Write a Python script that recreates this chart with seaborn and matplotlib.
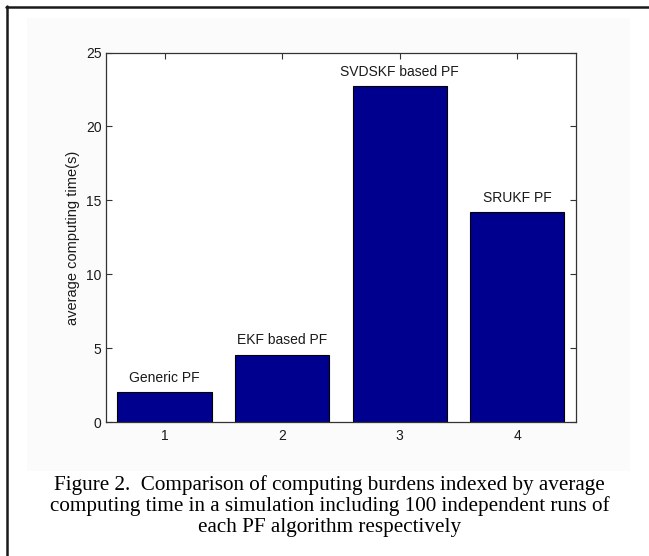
import matplotlib
matplotlib.use("Agg")
import matplotlib.pyplot as plt
import seaborn as sns
import pandas as pd
from matplotlib.lines import Line2D
from matplotlib.patches import Rectangle

# values
runs = ["1", "2", "3", "4"]
avg_time = [2.03, 4.58, 22.72, 14.22]
bar_labels = ["Generic PF", "EKF based PF", "SVDSKF based PF", "SRUKF PF"]
y_ticks = [0, 5, 10, 15, 20, 25]
caption = ("Figure 2.  Comparison of computing burdens indexed by average\n"
           "computing time in a simulation including 100 independent runs of\n"
           "each PF algorithm respectively")

sns.set_theme(style="ticks", rc={"xtick.direction": "in", "ytick.direction": "in"})
plt.rcParams["font.family"] = ["Liberation Sans", "DejaVu Sans"]

df = pd.DataFrame({"run": runs, "time": avg_time, "label": bar_labels})

fig = plt.figure(figsize=(6.49, 5.56), dpi=100)
fig.patch.set_facecolor("white")

# very faint grey panel behind the plot, as in the screenshot
fig.add_artist(Rectangle((27 / 649, 1 - 471 / 556), (630 - 27) / 649, (471 - 18) / 556,
                         transform=fig.transFigure, facecolor="#fbfbfb",
                         edgecolor="none", zorder=-2))

ax = fig.add_axes([0.1629, 0.2405, 0.7246, 0.665])
ax.set_facecolor("white")

sns.barplot(data=df, x="run", y="time", order=runs, color="#00008f",
            edgecolor="black", linewidth=0.8, saturation=1, width=0.8, ax=ax)

for i, row in df.iterrows():
    ax.text(i, row["time"] + 0.7, row["label"], ha="center", va="baseline",
            fontsize=10, color="#1a1a1a")

ax.set_xlim(-0.5, 3.5)
ax.set_ylim(0, 25)
ax.set_yticks(y_ticks)
ax.set_xlabel("")
ax.set_ylabel("average computing time(s)", fontsize=10.5, labelpad=4, color="#1a1a1a")
ax.tick_params(top=True, right=True, length=4, width=0.8, colors="#333333",
               labelsize=10, labelcolor="#1a1a1a")
ax.tick_params(axis="y", pad=3)
ax.tick_params(axis="x", pad=5)
for s in ax.spines.values():
    s.set_color("#333333")
    s.set_linewidth(0.9)

fig.text(0.508, 1 - 475 / 556, caption, ha="center", va="top", multialignment="center",
         fontsize=15.2, linespacing=1.1, family=["Liberation Serif", "DejaVu Serif"],
         color="black")

# frame lines at top and left edges of the screenshot
fig.add_artist(Line2D([6 / 649, 1], [1 - 7.3 / 556, 1 - 7.3 / 556], transform=fig.transFigure,
                      color="#1a1a1a", linewidth=1.8))
fig.add_artist(Line2D([7.3 / 649, 7.3 / 649], [0, 1 - 6 / 556], transform=fig.transFigure,
                      color="#1a1a1a", linewidth=1.8))

fig.savefig("out.png", dpi=100)
